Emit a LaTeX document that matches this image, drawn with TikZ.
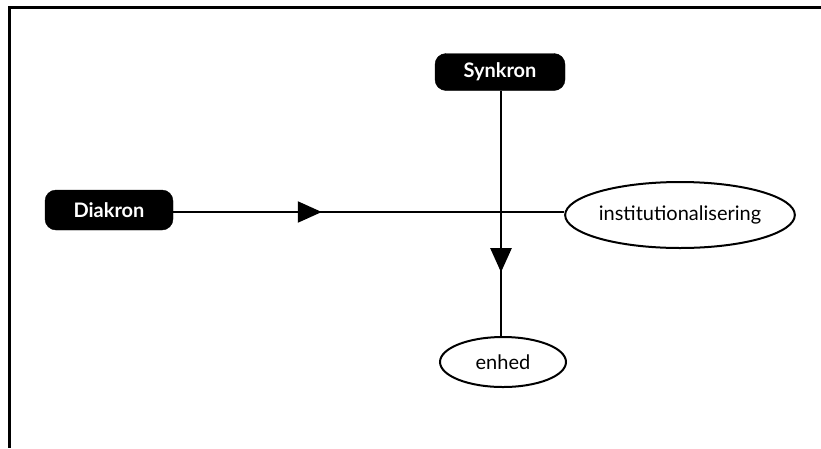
\documentclass[tikz,border=0pt]{standalone}
\usepackage{fontspec}
\setmainfont{Lato}
\usetikzlibrary{arrows.meta,decorations.markings,shapes.geometric}
\begin{document}
\begin{tikzpicture}[x=1pt,y=-1pt,
  darkbox/.style={draw=black,fill=black,rounded corners=11pt,text=white,
    minimum width=128pt,minimum height=40pt,inner sep=0pt,
    font=\fontsize{20}{22}\selectfont\bfseries},
  oval/.style={draw=black,line width=2pt,ellipse,inner sep=0pt,
    font=\fontsize{20}{22}\selectfont},
  conn/.style={line width=2.2pt},
  midtip/.style={postaction={decorate},decoration={markings,
    mark=at position #1 with {\arrow{Triangle[length=24pt,width=21pt]}}}}
]
\useasboundingbox (0,0) rectangle (821,448);
\fill[white] (0,0) rectangle (821,448);
% frame (top and left edges)
\draw[line width=3pt] (8,7) -- (821,7);
\draw[line width=3pt] (9.5,7) -- (9.5,448);

\node[darkbox] (dia) at (109,210) {Diakron};
\node[darkbox,minimum width=130pt,minimum height=37pt] (syn) at (500,72) {Synkron};
\node[oval,minimum width=225pt,minimum height=66pt] (inst) at (680,215) {institutionalisering};
\node[oval,minimum width=126pt,minimum height=50pt] (enh) at (503,362) {enhed};

\draw[conn,midtip=0.38] (dia.east |- 0,212) -- (inst.west |- 0,212);
\draw[conn,midtip=0.74] (syn.south -| 501,0) -- (enh.north -| 501,0);
\end{tikzpicture}
\end{document}
